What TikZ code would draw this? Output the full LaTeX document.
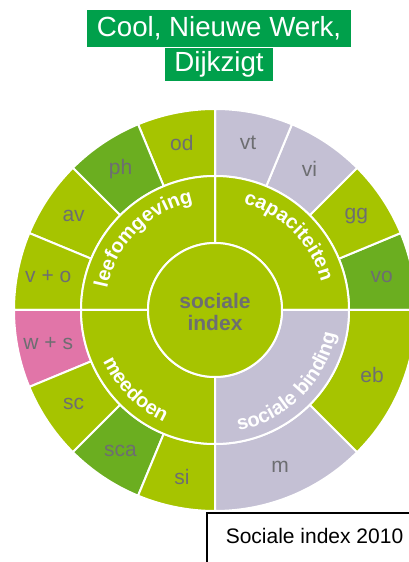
\documentclass[tikz,border=0pt]{standalone}
\usepackage{fontspec}
\setmainfont{Liberation Sans}
\usepackage{tikz}
\usetikzlibrary{positioning, decorations.text}
\definecolor{leafgreen}{RGB}{166,196,0}
\definecolor{darkleaf}{RGB}{107,174,32}
\definecolor{lavender}{RGB}{196,192,212}
\definecolor{rosepink}{RGB}{225,117,168}
\definecolor{titlegreen}{RGB}{0,160,75}
\definecolor{labelgrey}{RGB}{109,110,113}
\tikzset{mysector/.style = {draw=white, line width=2pt, fill=#1}}
\tikzset{mylabel/.style = {text=labelgrey, font=\fontsize{21}{21}\selectfont}}
\tikzset{mytitle/.style = {fill=titlegreen, text=white, font=\fontsize{27.7}{30}\selectfont, inner xsep=9.5pt, inner ysep=0pt}}
\newcommand{\ringfont}{\bfseries\fontsize{20}{20}\selectfont}
\NewDocumentCommand{\fsector}{O{leafgreen} m m m m}{%
	\filldraw[mysector=#1] (#2:#4) arc[start angle=#2, end angle=#3, radius=#4] -- (#3:#5) arc[start angle=#3, end angle=#2, radius=#5] -- cycle;
}

\begin{document}
\begin{tikzpicture}[x=1pt, y=1pt]
\useasboundingbox (0,0) rectangle (409,562);
\clip (0,0) rectangle (409,562);
\node[mytitle, anchor=north, text height=26pt, text depth=11pt] (title1) at (219,552) {Cool, Nieuwe Werk,};
\node[mytitle, below=0pt of title1, text height=24pt, text depth=9pt] (title2) {Dijkzigt};
\begin{scope}[shift={(215,252)}]
% outer ring
\foreach \a/\b/\col/\txt/\nm in {0/22.5/darkleaf/vo/vo, 22.5/45/leafgreen/gg/gg, 45/67.5/lavender/vi/vi, 67.5/90/lavender/vt/vt,
	90/112.5/leafgreen/od/od, 112.5/135/darkleaf/ph/ph, 135/157.5/leafgreen/av/av, 157.5/180/leafgreen/v + o/vo2,
	180/202.5/rosepink/w + s/ws, 202.5/225/leafgreen/sc/sc, 225/247.5/darkleaf/sca/sca, 247.5/270/leafgreen/si/si,
	270/315/lavender/m/m, 315/360/leafgreen/eb/eb}{
	\fsector[\col]{\a}{\b}{201}{134}
	\node[mylabel] (seg-\nm) at ({(\a+\b)/2}:170) {\txt};
}
% middle ring
\fsector{0}{90}{134}{67}
\fsector{90}{180}{134}{67}
\fsector{180}{270}{134}{67}
\fsector[lavender]{270}{360}{134}{67}
\filldraw[mysector=leafgreen] (0,0) circle[radius=67];
\node[text=labelgrey, font=\bfseries\fontsize{21}{22}\selectfont, align=center, yshift=-2pt] (core) at (0,0) {sociale\\index};
\path[decorate, decoration={text along path, text align=center, text color=white, text={|\ringfont|leefomgeving}}]
	(180:110) arc[start angle=180, end angle=90, radius=110];
\path[decorate, decoration={text along path, text align=center, text color=white, text={|\ringfont|capaciteiten}}]
	(90:110) arc[start angle=90, end angle=0, radius=110];
\path[decorate, decoration={text along path, text align=center, text color=white, text={|\ringfont|meedoen}}]
	(180:123) arc[start angle=180, end angle=270, radius=123];
\path[decorate, decoration={text along path, text align=center, text color=white, text={|\ringfont|sociale binding}}]
	(270:123) arc[start angle=270, end angle=360, radius=123];
\end{scope}
\node[draw=black, line width=2pt, anchor=north west, minimum width=215pt, minimum height=60pt, text height=8pt, text depth=8pt, font=\fontsize{21}{21}\selectfont] (caption) at (206,50) {Sociale index 2010};
\end{tikzpicture}
\end{document}
